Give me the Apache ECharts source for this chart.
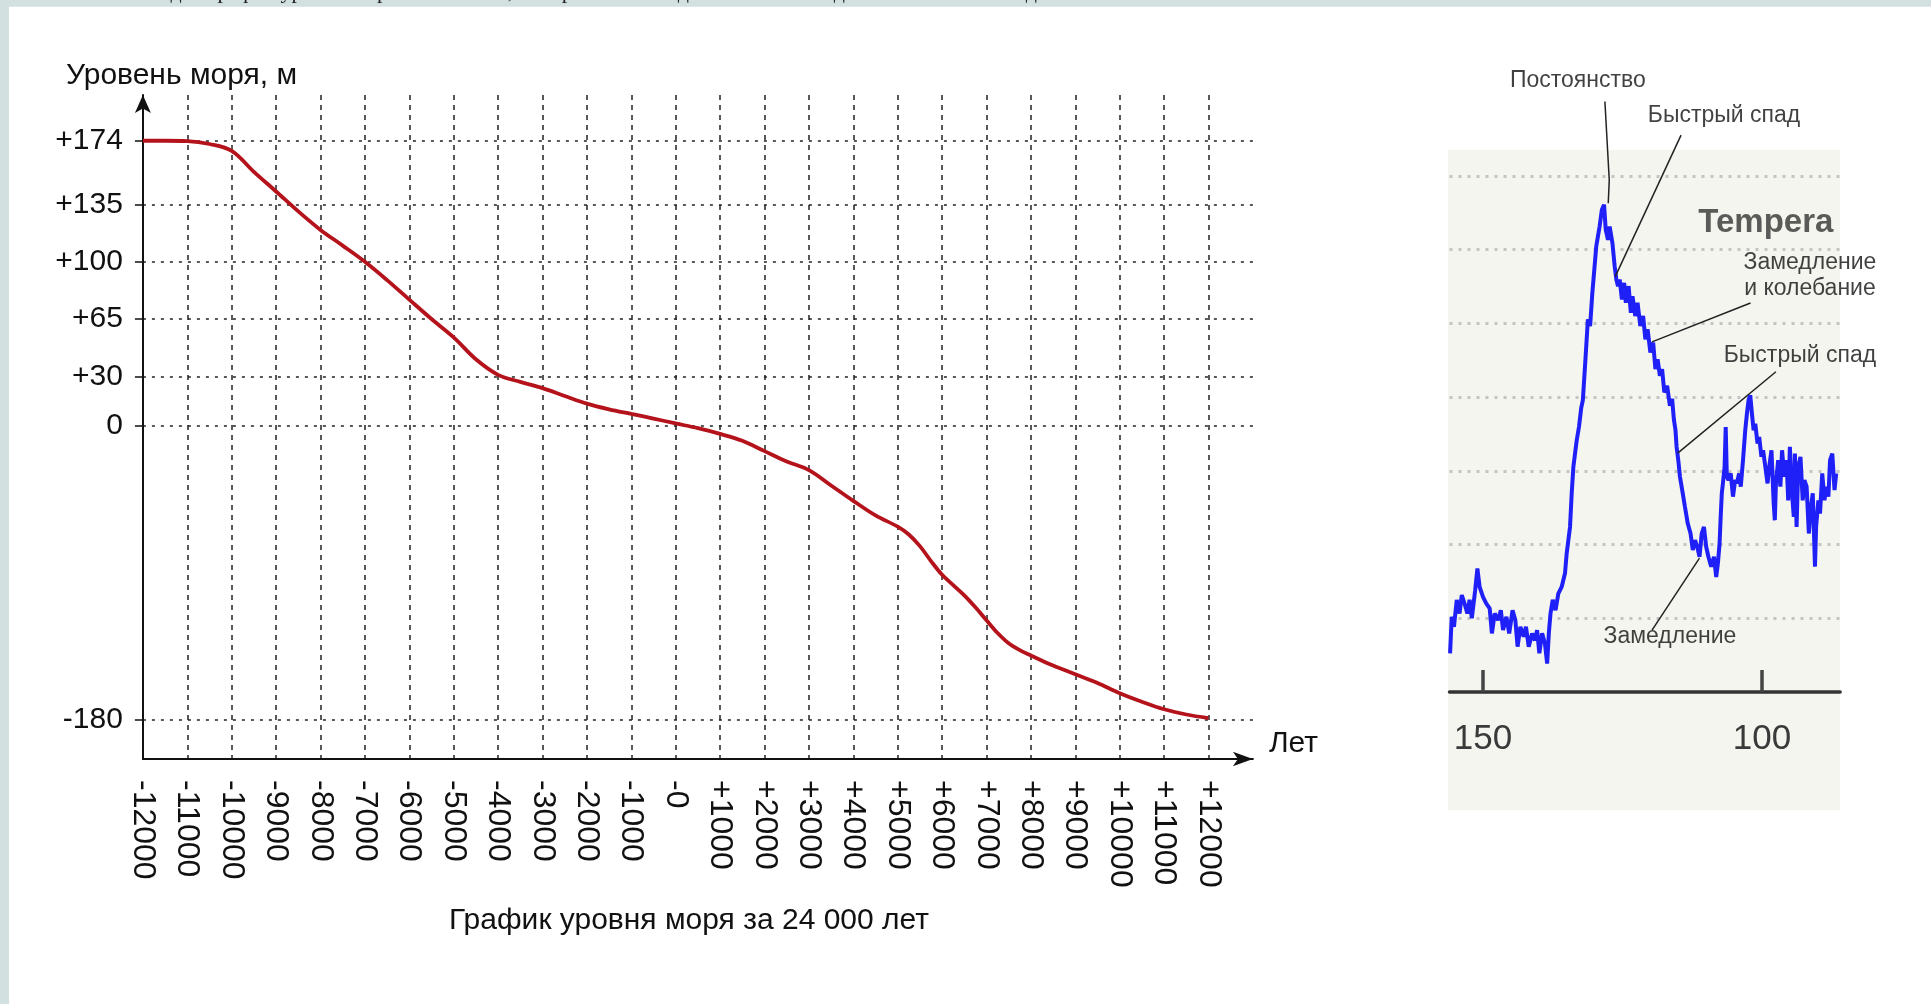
<!DOCTYPE html>
<html><head><meta charset="utf-8">
<script src="https://cdn.jsdelivr.net/npm/echarts@6/dist/echarts.min.js"></script>
<style>html,body{margin:0;padding:0;background:#fff;overflow:hidden}#c{width:1931px;height:1004px}</style>
</head><body><div id="c"></div><script>
// ---- Sea level chart data ----
const seaYears = [-12000,-11500,-11000,-10500,-10000,-9500,-9000,-8500,-8000,-7500,-7000,-6500,-6000,-5500,-5000,-4500,-4000,-3500,-3000,-2500,-2000,-1500,-1000,-500,0,500,1000,1500,2000,2500,3000,3500,4000,4500,5000,5250,5500,5750,6000,6250,6500,6750,7000,7250,7500,7750,8000,8500,9000,9500,10000,10500,11000,11500,12000];
const seaLevel = [174,174,173.8,172,167.8,155,143,130.8,119.5,109.9,100,88.8,76.9,65,53.8,40.4,30.9,26.6,22.8,18,13.3,9.8,7,4.2,1.2,-1.7,-5.2,-9.4,-15.7,-22,-27.3,-36.7,-46.1,-55,-61.9,-66.7,-73.8,-82.9,-91.3,-97.6,-103.9,-111.2,-119.1,-126.9,-133.2,-137.4,-140.6,-146.8,-152.1,-157.4,-163.7,-168.9,-173.5,-176.7,-178.9];
const seaTickValues = [174,135,100,65,30,0,-180];

// ---- Temperature inset data (age, kyr ago -> temperature anomaly) ----
const tempAge = [155.9,155.6,155.2,154.7,154.2,153.8,153.3,152.8,152.4,152.0,151.4,151.0,150.6,150.0,149.4,148.8,148.4,147.9,147.3,146.8,146.4,145.8,145.3,144.7,144.2,143.8,143.3,142.7,142.3,141.8,141.2,140.7,140.3,139.9,139.4,138.9,138.5,138.2,137.9,137.5,137.0,136.5,135.9,135.3,135.0,134.7,134.4,134.1,133.8,133.5,133.2,132.8,132.4,132.1,131.6,131.2,130.8,130.4,130.0,129.7,129.4,129.1,128.7,128.3,128.0,127.6,127.3,126.8,126.4,126.1,125.8,125.5,125.1,124.7,124.4,123.9,123.5,123.2,122.7,122.3,121.8,121.3,120.9,120.5,120.0,119.5,119.1,118.7,118.3,117.9,117.5,117.0,116.5,116.1,115.8,115.5,115.3,115.0,114.7,114.2,113.8,113.3,112.8,112.4,112.0,111.6,111.2,110.8,110.4,110.0,109.6,109.1,108.6,108.2,107.9,107.6,107.4,107.2,107.0,106.7,106.5,106.3,106.0,105.6,105.2,104.8,104.5,104.1,103.8,103.4,103.0,102.7,102.4,102.1,101.8,101.5,101.2,100.8,100.5,100.1,99.8,99.4,99.0,98.7,98.3,97.9,97.7,97.5,97.1,96.7,96.4,96.0,95.6,95.3,95.0,94.7,94.3,94.1,93.8,93.5,93.1,92.7,92.4,92.0,91.6,91.3,90.9,90.5,90.3,89.9,89.6,89.2,88.8,88.5,88.1,87.8,87.4,87.0,86.7];
const tempValue = [-8.95,-7.96,-8.23,-7.5,-7.87,-7.37,-7.6,-7.87,-7.5,-8.0,-7.24,-6.65,-7.15,-7.42,-7.6,-7.73,-8.41,-7.87,-8.05,-7.78,-8.32,-7.96,-8.41,-7.78,-8.05,-8.77,-8.23,-8.5,-8.23,-8.77,-8.41,-8.6,-8.32,-8.95,-8.41,-8.68,-9.23,-8.41,-7.87,-7.5,-7.78,-7.33,-7.15,-6.78,-6.24,-5.88,-5.52,-4.61,-3.89,-3.53,-3.17,-2.81,-2.3,-2.08,-0.88,0.11,-0.07,0.83,1.55,2.09,2.36,2.63,3.08,3.22,2.54,2.27,2.63,2.18,1.55,1.19,1.01,1.19,0.65,1.1,0.56,1.01,0.29,0.74,0.2,0.56,-0.07,0.2,-0.43,-0.16,-0.79,-0.52,-1.24,-0.97,-1.42,-1.24,-1.87,-1.69,-2.23,-2.05,-2.59,-2.9,-3.35,-3.71,-4.16,-4.61,-4.98,-5.43,-5.7,-6.15,-5.88,-6.06,-6.33,-5.7,-5.52,-6.06,-6.33,-6.6,-6.33,-6.88,-6.51,-5.97,-5.25,-4.61,-4.34,-3.89,-2.81,-4.16,-4.25,-4.07,-4.7,-4.25,-4.34,-4.07,-4.43,-3.71,-2.9,-2.45,-2.08,-1.95,-2.45,-2.9,-2.72,-3.26,-3.08,-3.62,-3.44,-3.89,-4.34,-3.89,-3.44,-4.89,-5.34,-4.34,-3.71,-4.43,-3.44,-4.16,-3.71,-4.8,-3.35,-4.43,-5.25,-3.53,-5.52,-3.89,-3.62,-4.8,-4.25,-4.43,-5.7,-5.07,-4.61,-6.6,-5.52,-4.8,-5.16,-4.07,-4.8,-4.43,-4.7,-3.71,-3.53,-4.52,-4.07];
const tempTickValues = [150, 100];

// ---- Inset annotations (in inset data space: [age, temperature]) ----
const noteTexts = ['Постоянство','Быстрый спад','Замедление\nи колебание','Быстрый спад','Замедление'];
const noteTextAt = [[133.0,6.58],[106.8,5.63],[91.4,1.29],[93.2,-0.88],[116.5,-8.5]];
const noteLeaders = [
  [[128.15,6.02],[127.37,3.89],[127.55,3.26]],
  [[114.5,5.11],[126.3,1.27]],
  [[102.06,0.555],[119.7,-0.5]],
  [[97.5,-1.31],[115.1,-3.52]],
  [[111.2,-6.37],[119.7,-8.32]]
];
const insetTitle = 'Tempera';
const insetTitleAt = [111.5, 2.72];

const FONT = '"Liberation Sans", Arial, Helvetica, sans-serif';
const chart = echarts.init(document.getElementById('c'), null, {renderer: 'canvas'});

function fmtYear(v) {
  if (v > 12000) return '';
  if (v === 0) return '-0';
  return v > 0 ? '+' + v : String(v);
}
const CLEAR = 'rgba(0,0,0,0)';

chart.setOption({
  backgroundColor: '#ffffff',
  animation: false,
  grid: [
    {left: 142.9, top: 95, width: 1110, height: 664},
    {left: 1449.5, top: 176, width: 390.6, height: 516}
  ],
  xAxis: [
    {
      gridIndex: 0, type: 'value', min: -12000, max: 13000, interval: 1000,
      name: 'Лет', nameLocation: 'end', nameGap: 16,
      nameTextStyle: {fontFamily: FONT, fontSize: 30, color: '#111', verticalAlign: 'bottom', align: 'left'},
      axisLine: {onZero: false, symbol: ['none', 'arrow'], symbolSize: [11, 20], lineStyle: {color: '#111', width: 2}},
      axisTick: {show: false},
      axisLabel: {rotate: -90, margin: 21, fontFamily: FONT, fontSize: 32, color: '#111', formatter: fmtYear, showMaxLabel: false},
      splitLine: {show: true, showMinLine: false, showMaxLine: false, lineStyle: {color: '#222', width: 1.5, type: [5, 5]}}
    },
    {
      gridIndex: 1, type: 'value', min: 86, max: 156, inverse: true,
      axisLine: {onZero: false, lineStyle: {color: '#333', width: 3.5}},
      axisTick: {show: true, inside: true, length: 22, customValues: tempTickValues, lineStyle: {color: '#444', width: 3.5}},
      axisLabel: {customValues: tempTickValues, margin: 30, fontFamily: FONT, fontSize: 35, color: '#3a3a3a'},
      splitLine: {show: false}
    }
  ],
  yAxis: [
    {
      gridIndex: 0, type: 'value', min: -203.9, max: 201.96,
      axisLine: {onZero: false, symbol: ['none', 'arrow'], symbolSize: [12, 18], lineStyle: {color: '#111', width: 2}},
      axisTick: {show: true, length: 8, customValues: seaTickValues, lineStyle: {color: '#111', width: 1.5}},
      axisLabel: {customValues: seaTickValues, margin: 20, fontFamily: FONT, fontSize: 30, color: '#111',
        formatter: v => v > 0 ? '+' + v : String(v)},
      splitLine: {show: true, lineStyle: {color: '#222', width: 1.5, type: [3, 6]}}
    },
    {
      gridIndex: 1, type: 'value', min: -10, max: 4, interval: 2,
      axisLine: {show: false}, axisTick: {show: false}, axisLabel: {show: false},
      splitLine: {show: true, showMinLine: false, lineStyle: {color: '#c4c4c4', width: 3, type: [3, 6]}}
    }
  ],
  graphic: [
    {type: 'rect', z: -100, silent: true, shape: {x: 0, y: 0, width: 1931, height: 6.7}, style: {fill: '#d3e0e0'}},
    {type: 'rect', z: -100, silent: true, shape: {x: 0, y: 0, width: 9, height: 1004}, style: {fill: '#d3e0e0'}},
    {type: 'text', z: -90, silent: true, x: 40, y: 3,
      style: {text: 'Вот так выглядит график уровня мирового океана, построенный по данным за последние 24 000 лет назад', fontFamily: 'serif', fontSize: 22, fill: '#222', verticalAlign: 'bottom'}},
    {type: 'rect', z: -80, silent: true, shape: {x: 1448, y: 150, width: 392, height: 660}, style: {fill: '#f5f5f0'}},
    {type: 'text', silent: true, x: 66, y: 76,
      style: {text: 'Уровень моря, м', fontFamily: FONT, fontSize: 30, fill: '#111', align: 'left', verticalAlign: 'middle'}},
    {type: 'text', silent: true, x: 689, y: 921,
      style: {text: 'График уровня моря за 24 000 лет', fontFamily: FONT, fontSize: 30, fill: '#111', align: 'center', verticalAlign: 'middle'}}
  ],
  series: [
    {
      type: 'line', xAxisIndex: 0, yAxisIndex: 0, smooth: 0.35, showSymbol: false, z: 5,
      data: seaYears.map((y, i) => [y, seaLevel[i]]),
      lineStyle: {color: '#b5131c', width: 3.8}
    },
    {
      type: 'line', xAxisIndex: 1, yAxisIndex: 1, smooth: false, showSymbol: false, z: 5,
      data: tempAge.map((a, i) => [a, tempValue[i]]),
      lineStyle: {color: '#1f1ff8', width: 4}
    },
    {
      type: 'lines', coordinateSystem: 'cartesian2d', xAxisIndex: 1, yAxisIndex: 1, polyline: true, clip: false, z: 6,
      data: noteLeaders.map(c => ({coords: c})),
      lineStyle: {color: '#222', width: 1.5, opacity: 1}
    },
    {
      type: 'scatter', xAxisIndex: 1, yAxisIndex: 1, clip: false, symbolSize: 1, z: 7,
      itemStyle: {color: CLEAR},
      data: noteTextAt.map((p, i) => ({name: noteTexts[i], value: p})),
      label: {show: true, position: 'inside', formatter: '{b}', fontFamily: FONT, fontSize: 23, color: '#111', lineHeight: 26, align: 'center', verticalAlign: 'middle'}
    },
    {
      type: 'scatter', xAxisIndex: 1, yAxisIndex: 1, clip: false, symbolSize: 1, z: 4,
      itemStyle: {color: CLEAR},
      data: [{name: insetTitle, value: insetTitleAt}],
      label: {show: true, position: 'right', distance: 0, formatter: '{b}', fontFamily: FONT, fontSize: 33, fontWeight: 'bold', color: '#333'}
    }
  ]
});
</script></body></html>
